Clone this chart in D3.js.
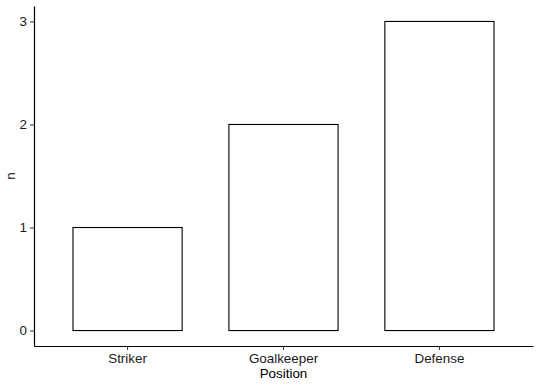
<!DOCTYPE html>
<html>
<head>
<meta charset="utf-8">
<script src="https://cdn.jsdelivr.net/npm/d3@7"></script>
<style>
  body { margin: 0; background: #fff; }
  text { font-family: "Liberation Sans", Arial, sans-serif; }
</style>
</head>
<body>
<div id="chart"></div>
<script>
// données
const positions = ["Striker", "Goalkeeper", "Defense"];
const counts = [1, 2, 3];
const yTicks = [0, 1, 2, 3];

const width = 540;
const height = 386;
const margin = { top: 6, right: 7, bottom: 40, left: 34 };
const fontSize = "13.4px";

const svg = d3
  .select("#chart")
  .append("svg")
  .attr("width", width)
  .attr("height", height);

const x = d3
  .scaleBand()
  .domain(positions)
  .range([margin.left, width - margin.right])
  .paddingInner(0.3)
  .paddingOuter(0.25);

// expansion de 5% comme ggplot
const y = d3
  .scaleLinear()
  .domain([-0.15, 3.15])
  .range([height - margin.bottom, margin.top]);

// barres
svg
  .selectAll(".bar")
  .data(positions)
  .enter()
  .append("rect")
  .attr("x", (d) => x(d))
  .attr("width", x.bandwidth())
  .attr("y", (d, i) => y(counts[i]))
  .attr("height", (d, i) => y(0) - y(counts[i]))
  .attr("fill", "white")
  .attr("stroke", "black")
  .attr("stroke-width", 1.1);

// axe x
svg
  .append("g")
  .attr("transform", `translate(0,${height - margin.bottom})`)
  .call(d3.axisBottom(x).tickSize(4).tickSizeOuter(0).tickPadding(3))
  .call((g) => g.select(".domain").attr("stroke-width", 1.2))
  .call((g) => g.selectAll(".tick line").attr("stroke", "#333"))
  .call((g) => g.selectAll(".tick text").attr("font-size", fontSize).attr("fill", "#1a1a1a").attr("font-family", "Liberation Sans, Arial, sans-serif"))
  .call((g) =>
    g
      .append("text")
      .attr("x", x.range()[0] + (x.range()[1] - x.range()[0]) / 2)
      .attr("y", 32)
      .attr("fill", "black")
      .attr("text-anchor", "middle")
      .attr("font-size", fontSize)
      .text("Position")
  );

// axe y
svg
  .append("g")
  .attr("transform", `translate(${margin.left},0)`)
  .call(d3.axisLeft(y).tickValues(yTicks).tickFormat(d3.format("d")).tickSize(4).tickSizeOuter(0).tickPadding(3))
  .call((g) => g.select(".domain").attr("stroke-width", 1.2))
  .call((g) => g.selectAll(".tick line").attr("stroke", "#333"))
  .call((g) => g.selectAll(".tick text").attr("font-size", fontSize).attr("fill", "#1a1a1a").attr("font-family", "Liberation Sans, Arial, sans-serif"));

svg
  .append("text")
  .attr("transform", `translate(15,${(y.range()[0] + y.range()[1]) / 2}) rotate(-90)`)
  .attr("text-anchor", "middle")
  .attr("font-size", fontSize)
  .attr("fill", "black")
  .text("n");
</script>
</body>
</html>
